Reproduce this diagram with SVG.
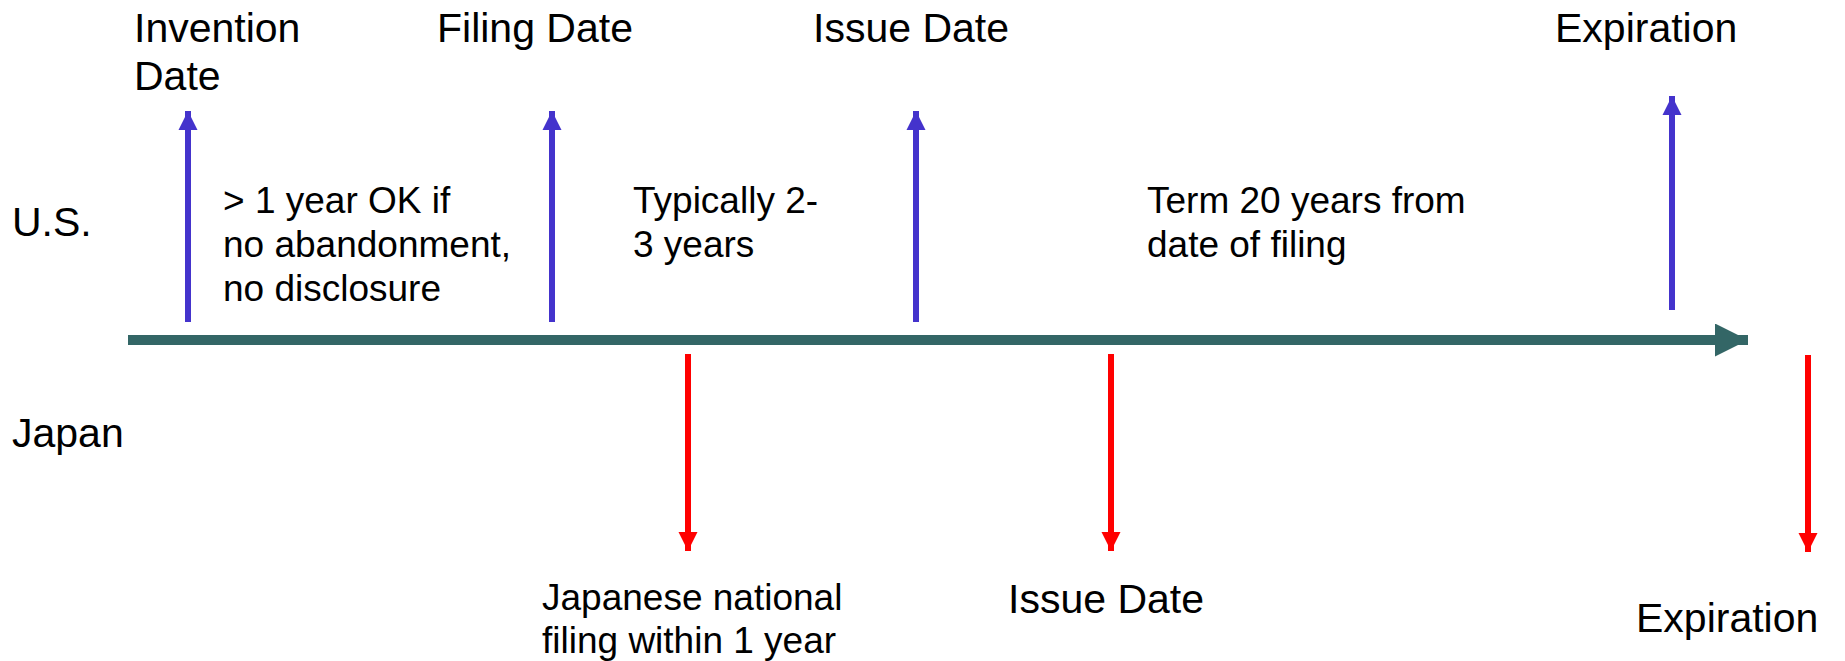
<svg xmlns="http://www.w3.org/2000/svg" width="1845" height="661" viewBox="0 0 1845 661">
<style>
text{font-family:"Liberation Sans",Arial,sans-serif;fill:#000}
.big{font-size:41px}
.small{font-size:37px}
.up{stroke:#4433CC;stroke-width:6;fill:none}
.down{stroke:#FF0000;stroke-width:6;fill:none}
</style>
<defs>
<marker id="hb" viewBox="0 0 10 10" refX="10" refY="5" markerWidth="3.2" markerHeight="3.2" orient="auto" markerUnits="strokeWidth"><path d="M0,0L10,5L0,10z" fill="#4433CC"/></marker>
<marker id="hr" viewBox="0 0 10 10" refX="10" refY="5" markerWidth="3.2" markerHeight="3.2" orient="auto" markerUnits="strokeWidth"><path d="M0,0L10,5L0,10z" fill="#FF0000"/></marker>
<marker id="ha" viewBox="0 0 10 10" refX="10" refY="5" markerWidth="3.3" markerHeight="3.3" orient="auto" markerUnits="strokeWidth"><path d="M0,0L10,5L0,10z" fill="#336666"/></marker>
</defs>
<g id="connectors">
<line x1="128" y1="340" x2="1748" y2="340" stroke="#336666" stroke-width="10" marker-end="url(#ha)"/>
<line class="up" x1="188" y1="322" x2="188" y2="111" marker-end="url(#hb)"/>
<line class="up" x1="552" y1="322" x2="552" y2="111" marker-end="url(#hb)"/>
<line class="up" x1="916" y1="322" x2="916" y2="111" marker-end="url(#hb)"/>
<line class="up" x1="1672" y1="310" x2="1672" y2="96" marker-end="url(#hb)"/>
<line class="down" x1="688" y1="354" x2="688" y2="551" marker-end="url(#hr)"/>
<line class="down" x1="1111" y1="354" x2="1111" y2="551" marker-end="url(#hr)"/>
<line class="down" x1="1808" y1="355" x2="1808" y2="552" marker-end="url(#hr)"/>
</g>
<g id="label-us"><text class="big" x="12" y="236">U.S.</text></g>
<g id="label-japan"><text class="big" x="12" y="447">Japan</text></g>
<g id="us-invention"><text class="big" x="134" y="42">Invention</text><text class="big" x="134" y="90">Date</text></g>
<g id="us-filing"><text class="big" x="437" y="42">Filing Date</text></g>
<g id="us-issue"><text class="big" x="813" y="42">Issue Date</text></g>
<g id="us-expiration"><text class="big" x="1555" y="42">Expiration</text></g>
<g id="note-grace"><text class="small" x="223" y="213">&gt; 1 year OK if</text><text class="small" x="223" y="257">no abandonment,</text><text class="small" x="223" y="301">no disclosure</text></g>
<g id="note-typical"><text class="small" x="633" y="213">Typically 2-</text><text class="small" x="633" y="257">3 years</text></g>
<g id="note-term"><text class="small" x="1147" y="213">Term 20 years from</text><text class="small" x="1147" y="257">date of filing</text></g>
<g id="jp-filing"><text class="small" x="542" y="610">Japanese national</text><text class="small" x="542" y="653">filing within 1 year</text></g>
<g id="jp-issue"><text class="big" x="1008" y="613">Issue Date</text></g>
<g id="jp-expiration"><text class="big" x="1636" y="632">Expiration</text></g>
</svg>
